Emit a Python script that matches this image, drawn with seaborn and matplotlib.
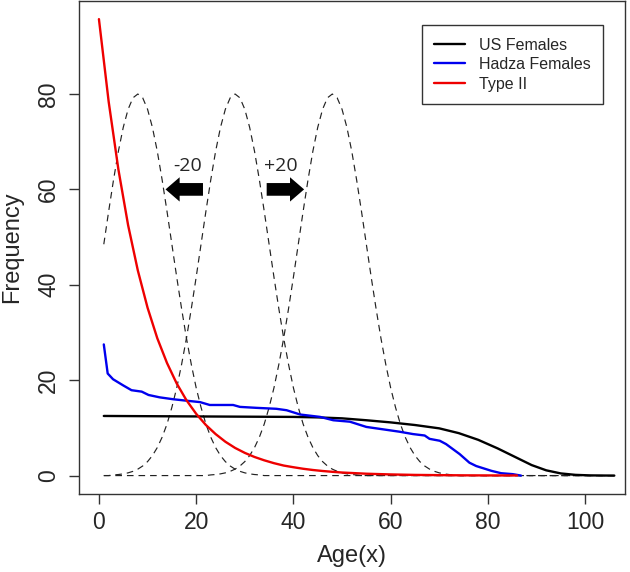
import matplotlib
matplotlib.use("Agg")
import matplotlib.pyplot as plt
import seaborn as sns
import numpy as np
import pandas as pd

# ---------------- data ----------------
us_age = [1, 10, 20, 30, 40, 45, 50, 55, 60, 65, 70, 74, 78, 82, 86, 89, 92, 95, 98, 101, 104, 106]
us_freq = [12.5, 12.45, 12.4, 12.35, 12.3, 12.2, 12.0, 11.6, 11.15, 10.6, 9.9, 8.9, 7.5, 5.7, 3.7, 2.2,
           1.1, 0.45, 0.15, 0.04, 0.01, 0.0]

hadza_age = [1, 1.8, 2.9, 5.0, 6.7, 8.8, 10.2, 12.5, 15.3, 18.0, 20.8, 22.8, 27.6, 29.0, 32.4, 36.5,
             38.6, 41.4, 45.5, 48.2, 51.6, 55.0, 58.4, 61.8, 64.6, 67.0, 68.0, 70.1, 71.4, 74.2,
             76.2, 77.6, 80.7, 82.7, 85.1, 86.8]
hadza_freq = [27.5, 21.4, 20.2, 18.9, 17.9, 17.6, 16.9, 16.4, 16.0, 15.7, 15.4, 14.8, 14.8, 14.4, 14.2,
              14.0, 13.7, 12.8, 12.3, 11.6, 11.3, 10.2, 9.7, 9.2, 8.7, 8.4, 7.7, 7.3, 6.6, 4.5,
              2.7, 2.0, 1.0, 0.5, 0.3, 0.0]

type2_age = [0, 2, 4, 6, 8, 10, 12, 14, 16, 18, 20, 22, 24, 26, 28, 30, 32, 34, 36, 38, 40, 42, 44,
             46, 48, 50, 55, 60, 65, 70, 75, 80, 86]
type2_freq = [95.7, 78.4, 64.2, 52.5, 43.0, 35.2, 28.8, 23.6, 19.3, 15.8, 12.95, 10.6, 8.7, 7.1, 5.8,
              4.76, 3.9, 3.2, 2.6, 2.1, 1.75, 1.43, 1.17, 0.96, 0.79, 0.64, 0.39, 0.24, 0.14, 0.09,
              0.05, 0.03, 0.02]

# dashed bell curves: one shape (half, from the peak outwards), centred at three ages
bell_half = [80.0, 79.2, 76.8, 73.0, 68.0, 62.0, 55.4, 48.5, 41.6, 35.0, 28.8, 23.3, 18.4, 14.3,
             10.8, 8.05, 5.87, 4.19, 2.93, 2.01, 1.35, 0.89, 0.57, 0.36, 0.22, 0.14]
bell_centres = [8, 28, 48]
age_grid = list(range(1, 107))

legend_labels = ["US Females", "Hadza Females", "Type II"]
x_ticks = [0, 20, 40, 60, 80, 100]
y_ticks = [0, 20, 40, 60, 80]

# ---------------- figure ----------------
sns.set_style("ticks")
plt.rcParams["font.family"] = ["Liberation Sans", "DejaVu Sans"]

fig = plt.figure(figsize=(6.3, 5.72), dpi=100)
ax = fig.add_axes([79 / 630, 1 - 493.7 / 572, (625 - 79) / 630, (493.7 - 1) / 572])

half = np.array(bell_half)
for c in bell_centres:
    ages = np.array(age_grid)
    d = np.abs(ages - c)
    vals = np.where(d < len(half), half[np.minimum(d, len(half) - 1)], 0.0)
    df_b = pd.DataFrame({"age": ages, "freq": vals})
    sns.lineplot(data=df_b, x="age", y="freq", ax=ax, color="#222222", lw=0.85,
                 linestyle=(0, (5.6, 4.2)), estimator=None, sort=False, legend=False)

df_us = pd.DataFrame({"age": us_age, "freq": us_freq})
df_hz = pd.DataFrame({"age": hadza_age, "freq": hadza_freq})
df_t2 = pd.DataFrame({"age": type2_age, "freq": type2_freq})

sns.lineplot(data=df_us, x="age", y="freq", ax=ax, color="black", lw=1.7,
             estimator=None, sort=False, label=legend_labels[0])
sns.lineplot(data=df_hz, x="age", y="freq", ax=ax, color="#0000ee", lw=1.7,
             estimator=None, sort=False, label=legend_labels[1])
sns.lineplot(data=df_t2, x="age", y="freq", ax=ax, color="#ee0000", lw=1.7,
             estimator=None, sort=False, label=legend_labels[2])

# arrows and their labels
ax.arrow(21.4, 60, -7.7, 0, width=2.66, head_width=5.1, head_length=2.9,
         length_includes_head=True, color="black", lw=0)
ax.arrow(34.5, 60, 7.7, 0, width=2.66, head_width=5.1, head_length=2.9,
         length_includes_head=True, color="black", lw=0)
ax.text(18.2, 64.9, "-20", ha="center", va="center", fontsize=14,
        family=["Open Sans", "DejaVu Sans"])
ax.text(37.4, 64.9, "+20", ha="center", va="center", fontsize=14,
        family=["Open Sans", "DejaVu Sans"])

ax.set_xlim(-4.1, 108.2)
ax.set_ylim(-3.8, 99.5)
ax.set_xticks(x_ticks)
ax.set_yticks(y_ticks)
ax.tick_params(axis="both", length=7.5, width=1, labelsize=16.5, color="#333333",
               direction="out")
ax.tick_params(axis="x", pad=5)
ax.tick_params(axis="y", pad=6)
for lab in ax.get_yticklabels():
    lab.set_rotation(90)
    lab.set_va("center")
for s in ax.spines.values():
    s.set_visible(True)
    s.set_color("#333333")
    s.set_linewidth(1.0)

ax.set_xlabel("Age(x)", fontsize=17, labelpad=8)
ax.set_ylabel("Frequency", fontsize=17, labelpad=10)

leg = ax.legend(loc="upper right", bbox_to_anchor=(0.96, 0.951), borderaxespad=0,
                fancybox=False, edgecolor="#333333", framealpha=1, fontsize=11.5,
                handlelength=1.95, handletextpad=0.85, labelspacing=0.28,
                borderpad=0.78)
leg.get_frame().set_linewidth(1.0)

fig.savefig("out.png", dpi=100)
